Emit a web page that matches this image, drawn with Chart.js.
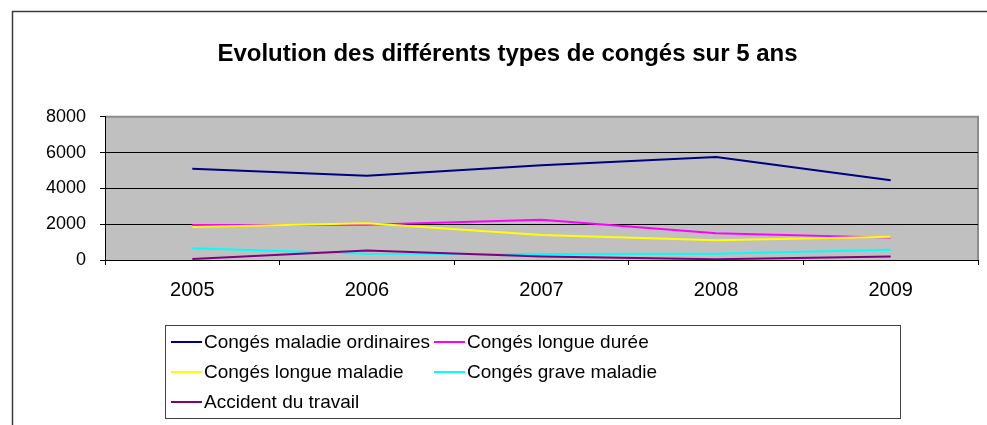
<!DOCTYPE html>
<html>
<head>
<meta charset="utf-8">
<script src="https://cdn.jsdelivr.net/npm/chart.js@4"></script>
<style>
  html, body { margin: 0; padding: 0; background: #fff; }
  #wrap { width: 987px; height: 425px; }
</style>
</head>
<body>
<div id="wrap"><canvas id="myChart" width="987" height="425"></canvas></div>
<script>
// values
var years = ['2005', '2006', '2007', '2008', '2009'];
var maladieOrdinaires = [5100, 4700, 5300, 5750, 4450];
var longueDuree = [1950, 1970, 2250, 1500, 1250];
var longueMaladie = [1850, 2050, 1400, 1100, 1300];
var graveMaladie = [650, 350, 330, 350, 570];
var accidentTravail = [60, 530, 190, 40, 190];
var yTicks = [0, 2000, 4000, 6000, 8000];

var seriesNames = ['Congés maladie ordinaires', 'Congés longue durée', 'Congés longue maladie',
  'Congés grave maladie', 'Accident du travail'];
var seriesColors = ['#000080', '#FF00FF', '#FFFF00', '#00FFFF', '#800080'];
var seriesData = [maladieOrdinaires, longueDuree, longueMaladie, graveMaladie, accidentTravail];

var font = 'Liberation Sans, Arial, sans-serif';

var datasets = seriesData.map(function(d, i) {
  return {
    label: seriesNames[i],
    data: d,
    borderColor: seriesColors[i],
    backgroundColor: seriesColors[i],
    borderWidth: 2,
    pointRadius: 0,
    tension: 0,
    order: seriesData.length - i   // later series drawn on top, like excel
  };
});

// frame, grey plot area and the boxed legend
var excelLook = {
  id: 'excelLook',
  beforeDraw: function(chart) {
    var ctx = chart.ctx, a = chart.chartArea;
    ctx.save();
    ctx.fillStyle = '#fff';
    ctx.fillRect(0, 0, chart.width, chart.height);
    ctx.strokeStyle = '#3a3a3a';
    ctx.lineWidth = 1.5;
    ctx.beginPath();
    ctx.moveTo(12.5, chart.height);
    ctx.lineTo(12.5, 11.5);
    ctx.lineTo(chart.width, 11.5);
    ctx.stroke();
    ctx.fillStyle = '#C0C0C0';
    ctx.fillRect(a.left, a.top, a.right - a.left, a.bottom - a.top);
    ctx.strokeStyle = '#8c8c8c';
    ctx.lineWidth = 2;
    ctx.beginPath();
    ctx.moveTo(a.left, a.top);
    ctx.lineTo(a.right, a.top);
    ctx.lineTo(a.right, a.bottom);
    ctx.stroke();
    ctx.restore();
  },
  afterDraw: function(chart) {
    var ctx = chart.ctx;
    ctx.save();
    ctx.strokeStyle = '#404040';
    ctx.lineWidth = 1;
    ctx.strokeRect(165.5, 325.5, 735, 93);
    ctx.font = '19px ' + font;
    ctx.textBaseline = 'middle';
    ctx.fillStyle = '#000';
    chart.data.datasets.forEach(function(ds, i) {
      var col = i % 2, row = Math.floor(i / 2);
      var x = col === 0 ? 171 : 434;
      var y = 342 + row * 30;
      ctx.strokeStyle = ds.borderColor;
      ctx.lineWidth = 2;
      ctx.beginPath();
      ctx.moveTo(x, y);
      ctx.lineTo(x + 31, y);
      ctx.stroke();
      ctx.fillText(ds.label, x + 33, y + 1);
    });
    ctx.restore();
  }
};

var ctx = document.getElementById('myChart').getContext('2d');
var myChart = new Chart(ctx, {
  type: 'line',
  data: { labels: years, datasets: datasets },
  plugins: [excelLook],
  options: {
    responsive: false,
    animation: false,
    events: [],
    layout: { padding: { left: 37, right: 9, top: 0, bottom: 119 } },
    plugins: {
      legend: { display: false },
      tooltip: { enabled: false },
      title: {
        display: true,
        text: 'Evolution des différents types de congés sur 5 ans',
        color: '#000',
        font: { family: font, size: 24, weight: 'bold' },
        padding: { top: 40, bottom: 48 }
      }
    },
    scales: {
      x: {
        offset: true,
        grid: { offset: true, drawOnChartArea: false, color: '#000', tickLength: 5 },
        border: { color: '#000', width: 1 },
        ticks: { color: '#000', font: { family: font, size: 20 }, padding: 13 },
        afterFit: function(s) { s.height = 46; }
      },
      y: {
        min: 0,
        max: 8000,
        afterBuildTicks: function(s) { s.ticks = yTicks.map(function(v) { return { value: v }; }); },
        grid: {
          color: function(c) { return c.tick && c.tick.value === 8000 ? 'rgba(0,0,0,0)' : '#000'; },
          tickColor: '#000',
          tickLength: 5
        },
        border: { color: '#000', width: 1 },
        ticks: {
          color: '#000',
          font: { family: font, size: 18 },
          padding: 14,
          callback: function(v) { return String(v); }
        },
        afterFit: function(s) { s.width = 68; }
      }
    }
  }
});
</script>
</body>
</html>
